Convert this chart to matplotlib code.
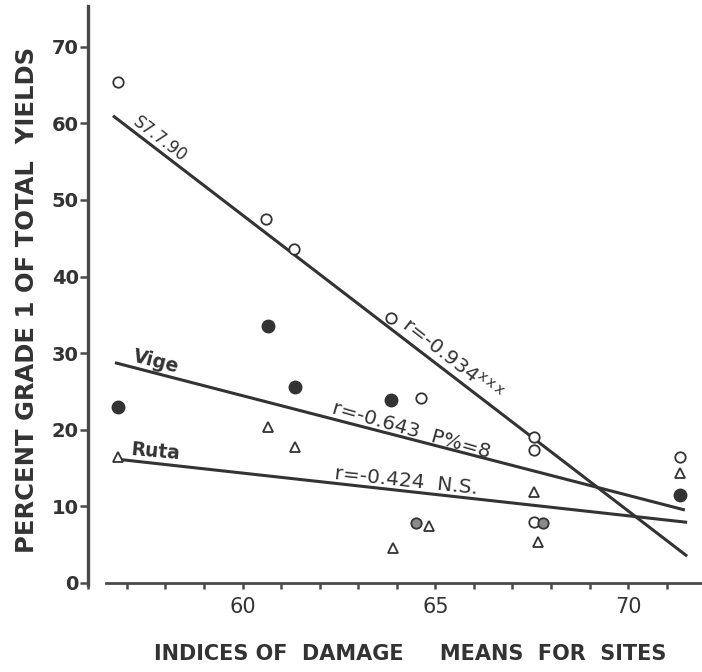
import matplotlib
matplotlib.use("Agg")
import matplotlib.pyplot as plt
from matplotlib.ticker import MultipleLocator

plt.rcParams['font.family'] = ['DejaVu Sans']
plt.rcParams['mathtext.fontset'] = 'dejavusans'

# Site damage index means (x) and percent grade 1 yields (y) per cultivar
s7790_x = [56.77, 60.62, 61.33, 63.86, 64.64, 67.55, 67.55, 67.55, 71.34]
s7790_y = [65.4, 47.5, 43.6, 34.6, 24.1, 19.0, 17.4, 8.0, 16.5]

vige_x = [56.77, 60.66, 61.36, 63.86, 71.34]
vige_y = [23.0, 33.6, 25.6, 23.9, 11.5]

# Vige points overlapping open circles (drawn half-filled)
vige_overlap_x = [64.51, 67.78]
vige_overlap_y = [7.8, 7.8]

ruta_x = [56.77, 60.66, 61.36, 63.89, 64.83, 67.55, 67.65, 71.34]
ruta_y = [16.5, 20.4, 17.7, 4.6, 7.4, 11.9, 5.3, 14.3]

# Regression line end points
s7790_line_x = [56.64, 71.53]
s7790_line_y = [61.0, 3.5]
vige_line_x = [56.69, 71.47]
vige_line_y = [28.76, 9.53]
ruta_line_x = [56.77, 71.53]
ruta_line_y = [16.15, 7.92]

y_ticks = [0, 10, 20, 30, 40, 50, 60, 70]
x_ticks = [60, 65, 70]

ink = '#333333'
axis_ink = '#4a4a4a'

fig = plt.figure(figsize=(7.02, 6.72), dpi=100)
ax = fig.add_axes([0.1258, 0.1296, 0.8742, 0.8612])
ax.set_xlim(56.0, 71.915)
ax.set_ylim(-0.25, 75.3)

for sp in ('top', 'right'):
    ax.spines[sp].set_visible(False)
ax.spines['left'].set_linewidth(2.4)
ax.spines['left'].set_color(axis_ink)
ax.spines['bottom'].set_linewidth(2.0)
ax.spines['bottom'].set_color(axis_ink)
ax.spines['bottom'].set_position(('data', 0))
ax.spines['bottom'].set_bounds(56.47, 71.915)

ax.set_yticks(y_ticks)
ax.set_yticklabels([str(v) for v in y_ticks], fontsize=14, fontweight='bold', color=ink)
ax.tick_params(axis='y', length=6, width=1.8, color=axis_ink, pad=1)

ax.set_xticks(x_ticks)
ax.set_xticklabels([str(v) for v in x_ticks], fontsize=15, color=ink)
ax.xaxis.set_minor_locator(MultipleLocator(1))
ax.tick_params(axis='x', which='both', length=4, width=1.8, color=axis_ink, pad=6)

# regression lines
for lx, ly in ((s7790_line_x, s7790_line_y), (vige_line_x, vige_line_y),
               (ruta_line_x, ruta_line_y)):
    ax.plot(lx, ly, color=ink, lw=2.2, solid_capstyle='butt')

# data points
ax.plot(s7790_x, s7790_y, 'o', ms=7.5, mfc='white', mec=ink, mew=1.3, ls='none', zorder=3)
ax.plot(vige_x, vige_y, 'o', ms=9, mfc=ink, mec=ink, ls='none', zorder=3)
ax.plot(vige_overlap_x, vige_overlap_y, 'o', ms=7.5, mfc='#8a8a8a', mec=ink, mew=1.3,
        ls='none', zorder=3)
ax.plot(ruta_x, ruta_y, '^', ms=7, mfc='white', mec=ink, mew=1.3, ls='none', zorder=3)

# line annotations
ax.text(57.86, 57.96, 'S7.7.90', rotation=-37.5, rotation_mode='anchor',
        ha='center', va='center', fontsize=12, color=ink)
ax.text(65.43, 29.1, r'r=-0.934$^{\mathrm{x\,x\,x}}$', rotation=-38, rotation_mode='anchor',
        ha='center', va='center', fontsize=14.5, color=ink)
ax.text(57.75, 28.85, 'Vige', rotation=-14.5, rotation_mode='anchor',
        ha='center', va='center', fontsize=13.5, fontweight='bold', color=ink)
ax.text(64.37, 19.97, 'r=-0.643  P%=8', rotation=-16, rotation_mode='anchor',
        ha='center', va='center', fontsize=14.5, color=ink)
ax.text(57.75, 17.1, 'Ruta', rotation=-5, rotation_mode='anchor',
        ha='center', va='center', fontsize=13.5, fontweight='bold', color=ink)
ax.text(64.23, 13.3, 'r=-0.424  N.S.', rotation=-6, rotation_mode='anchor',
        ha='center', va='center', fontsize=14.5, color=ink)

fig.text(0.038, 0.554, 'PERCENT GRADE 1 OF TOTAL  YIELDS', rotation=90,
         ha='center', va='center', fontsize=17.5, fontweight='bold', color=ink)
fig.text(0.584, 0.027, 'INDICES OF  DAMAGE     MEANS  FOR  SITES',
         ha='center', va='center', fontsize=15, fontweight='bold', color=ink)

fig.savefig('out.png', dpi=100)
